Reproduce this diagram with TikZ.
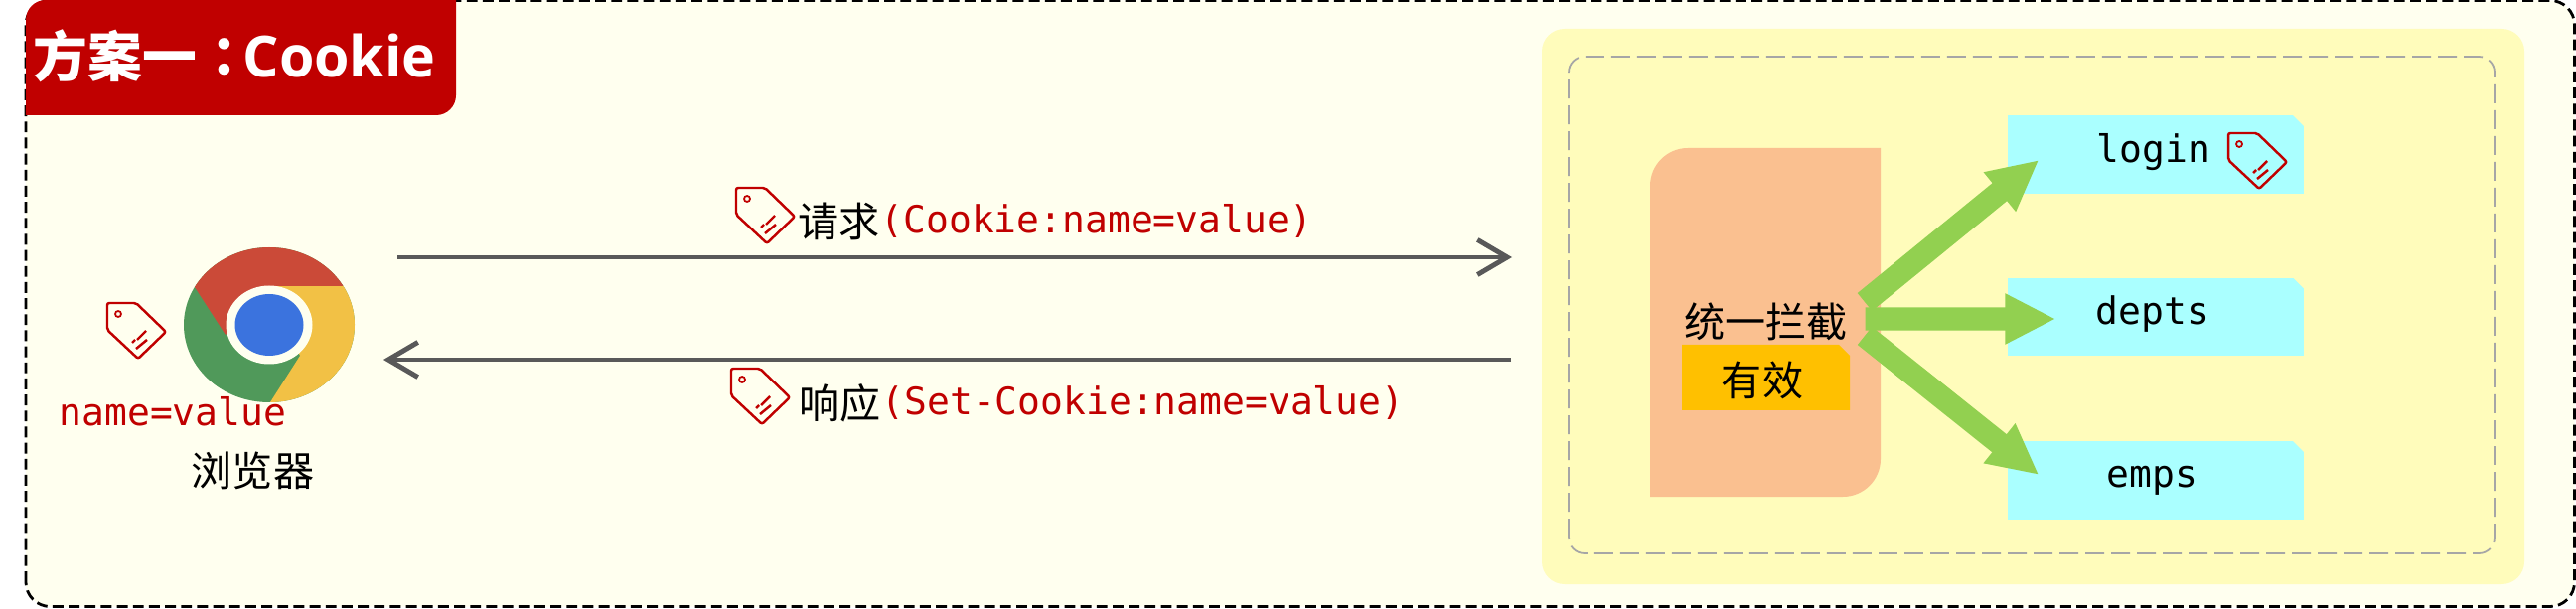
\documentclass[tikz,border=0pt]{standalone}
\usepackage{fontspec}
\usetikzlibrary{arrows.meta, positioning, calc}
\setmainfont{Noto Sans CJK SC}
\setmonofont{DejaVu Sans Mono}
\newfontfamily\titlefont{Open Sans}
\newfontfamily\colonfont{Noto Sans CJK TC}
\definecolor{paper}{HTML}{FFFFEF}
\definecolor{panel}{HTML}{FFFCBB}
\definecolor{crimson}{HTML}{C00000}
\definecolor{peach}{HTML}{FAC090}
\definecolor{amber}{HTML}{FFC000}
\definecolor{aqua}{HTML}{AAFFFF}
\definecolor{leaf}{HTML}{92D050}
\definecolor{graphite}{HTML}{595959}
\definecolor{chromered}{HTML}{CB4A38}
\definecolor{chromegold}{HTML}{F2C145}
\definecolor{chromegreen}{HTML}{50995A}
\definecolor{chromeblue}{HTML}{3B73DE}
\tikzset{
  cjk/.style={font=\fontsize{11.7}{12}\selectfont, inner sep=0pt, text=black},
  code/.style={font=\ttfamily\fontsize{10.8}{12}\selectfont, inner sep=0pt, text=crimson},
  apibox/.style={fill=aqua, minimum width=2.98cm, minimum height=0.785cm, inner sep=0pt},
  apilabel/.style={anchor=base west, inner sep=0pt, font=\ttfamily\fontsize{10.8}{12}\selectfont},
  callarrow/.style={-{Straight Barb[length=8.5pt,width=10pt]}, line width=1.4pt, draw=graphite},
  bigarrow/.style={-{Triangle[length=14.5pt,width=13.5pt]}, line width=6.6pt, draw=leaf},
  pics/pricetag/.style={code={
    \draw[crimson, line width=0.7pt, rounded corners=0.6pt]
      (0,0) -- (.29,0) -- (.59,-.29) -- (.31,-.56) -- (0,-.27) -- cycle;
    \draw[crimson, line width=0.5pt] (.11,-.11) circle (.03);
    \draw[crimson, line width=0.7pt]
      (.30,-.37) -- (.39,-.28)
      (.29,-.46) -- (.40,-.37)
      (.25,-.40) -- (.28,-.37);
  }},
}
\begin{document}
\begin{tikzpicture}[x=1cm,y=1cm]
  \useasboundingbox (0,0) rectangle (25.93,6.12);
  % frame and title
  \draw[fill=paper, draw=black, line width=0.8pt, dash pattern=on 3.1pt off 1.5pt, rounded corners=7pt]
    (.26,.015) rectangle (25.915,6.115);
  \fill[crimson] (.26,4.96) -- (4.39,4.96) arc (-90:0:.2) -- (4.59,6.12) -- (.46,6.12) arc (90:180:.2) -- cycle;
  \node[anchor=west, inner sep=0pt, text=white, font=\bfseries\fontsize{15.6}{16}\selectfont] (title) at (.33,5.56)
    {方案一{\colonfont ：}\kern-2.4pt{\titlefont\fontsize{16.3}{16}\selectfont Cookie}};

  % browser
  \coordinate (chrome) at (2.71,2.85);
  \fill[chromegreen] (chrome) ellipse (.86 and .78);
  \begin{scope}
    \clip (chrome) ellipse (.86 and .78);
    \fill[chromegold] (2.70,3.24) -- (3.75,3.24) -- (3.75,1.8) -- (2.72,2.07) -- (3.02,2.54) -- cycle;
    \fill[chromered] (2.27,2.75) -- (1.96,3.23) -- (1.7,3.8) -- (3.75,3.8) -- (3.45,3.24) -- (2.70,3.24) -- cycle;
  \end{scope}
  \fill[paper] (chrome) ellipse (.435 and .395);
  \fill[chromeblue] (chrome) ellipse (.345 and .31);
  \pic at (1.08,3.07) {pricetag};
  \node[code, anchor=base west] (cookieval) at (.59,1.83) {name=value};
  \node[cjk, anchor=center] (browser) at (2.545,1.38) {浏览器};

  % server side
  \fill[panel, rounded corners=6.5pt] (15.52,.24) rectangle (25.41,5.83);
  \draw[draw=black!35, line width=0.5pt, dash pattern=on 5.4pt off 2pt, rounded corners=4.5pt]
    (15.79,.55) rectangle (25.11,5.55);
  \fill[peach] (16.61,1.12) -- (18.55,1.12) arc (-90:0:.38) -- (18.93,4.63) -- (16.99,4.63) arc (90:180:.38) -- cycle;
  \node[cjk] (guard) at (17.775,2.88) {统一拦截};
  \fill[amber] (16.93,1.99) -- (18.62,1.99) -- (18.62,2.54) -- (18.51,2.65) -- (16.93,2.65) -- cycle;
  \node[cjk] (valid) at (17.74,2.29) {有效};

  \node[apibox] (login) at (21.70,4.565) {};
  \node[apibox] (depts) at (21.70,2.93) {};
  \node[apibox] (emps) at (21.70,1.285) {};
  \foreach \api/\bx/\by in {login/21.10/4.48, depts/21.09/2.85, emps/21.20/1.21} {
    \fill[panel] ($(\api.north east)+(-.12,0)$) -- (\api.north east) -- ($(\api.north east)+(0,-.12)$) -- cycle;
    \node[apilabel] (\api text) at (\bx,\by) {\api};
  }
  \pic at (22.43,4.78) {pricetag};

  \coordinate (hubtop) at (18.77,3.08);
  \coordinate (hubmid) at (18.775,2.91);
  \coordinate (hubbot) at (18.77,2.74);
  \coordinate (logintip) at ($(login.west)+(.32,-.055)$);
  \coordinate (deptstip) at ($(depts.west)+(.49,-.02)$);
  \coordinate (empstip) at ($(emps.west)+(.32,.055)$);
  \draw[bigarrow] (hubtop) -- (logintip);
  \draw[bigarrow] (hubbot) -- (empstip);
  \draw[bigarrow] (hubmid) -- (deptstip);

  % request and response
  \coordinate (reqfrom) at (4.00,3.53);
  \coordinate (reqto) at (15.22,3.53);
  \coordinate (respfrom) at (15.21,2.50);
  \coordinate (respto) at (3.86,2.50);
  \draw[callarrow] (reqfrom) -- (reqto);
  \draw[callarrow] (respfrom) -- (respto);
  \pic at (7.41,4.23) {pricetag};
  \node[cjk, anchor=west] (reqcn) at (8.03,3.89) {请求};
  \node[code, anchor=west] (reqcode) at (8.86,3.90) {(Cookie:name=value)};
  \pic at (7.36,2.41) {pricetag};
  \node[cjk, anchor=west] (respcn) at (8.04,2.06) {响应};
  \node[code, anchor=west] (respcode) at (8.87,2.07) {(Set-Cookie:name=value)};
\end{tikzpicture}
\end{document}
